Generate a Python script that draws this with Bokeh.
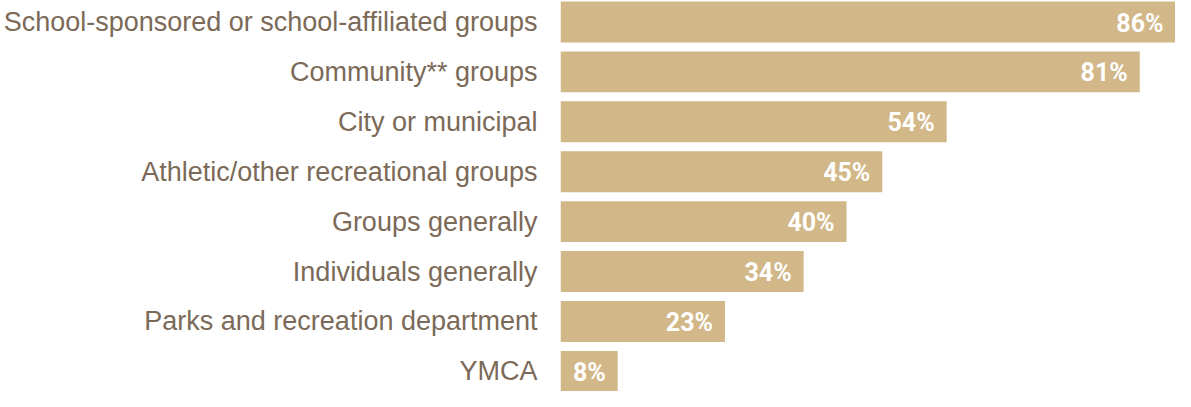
from bokeh.plotting import figure
from bokeh.models import ColumnDataSource, LabelSet, Range1d, FixedTicker
from bokeh.core.properties import value
from bokeh.embed import file_html
from bokeh.resources import INLINE

categories = [
    "School-sponsored or school-affiliated groups",
    "Community** groups",
    "City or municipal",
    "Athletic/other recreational groups",
    "Groups generally",
    "Individuals generally",
    "Parks and recreation department",
    "YMCA",
]
values = [86, 81, 54, 45, 40, 34, 23, 8]
value_labels = [f"{v}%" for v in values]

BAR = "#d2b789"
TEXT = "#7b6a58"

idx = list(range(len(categories)))
src = ColumnDataSource(dict(y=idx, cat=categories, val=values, lab=value_labels))

p = figure(
    width=1175, height=391,
    y_range=Range1d(7.404, -0.431),
    x_range=Range1d(0, 86.0),
    output_backend="svg", toolbar_location=None,
    min_border_left=550, min_border_right=0, min_border_top=0, min_border_bottom=0,
)
p.hbar(y="y", right="val", left=0, height=0.82, source=src, color=BAR, line_color=None)

labels = LabelSet(
    x="val", y="y", text="lab", source=src,
    x_offset=-12, y_offset=-1, text_align="right", text_baseline="middle",
    text_color="white", text_font=value("Roboto"),
    text_font_style="bold", text_font_size="25px",
)
p.add_layout(labels)

p.xaxis.visible = False
p.xgrid.visible = False
p.ygrid.visible = False
p.outline_line_color = None
p.yaxis.ticker = FixedTicker(ticks=idx)
p.yaxis.major_label_overrides = {i: c for i, c in zip(idx, categories)}
p.yaxis.axis_line_color = None
p.yaxis.major_tick_line_color = None
p.yaxis.minor_tick_line_color = None
p.yaxis.major_label_text_font = "Liberation Sans"
p.yaxis.major_label_text_font_size = "27px"
p.yaxis.major_label_text_color = TEXT
p.yaxis.major_label_standoff = 17

open("out.html", "w").write(file_html(p, INLINE))
